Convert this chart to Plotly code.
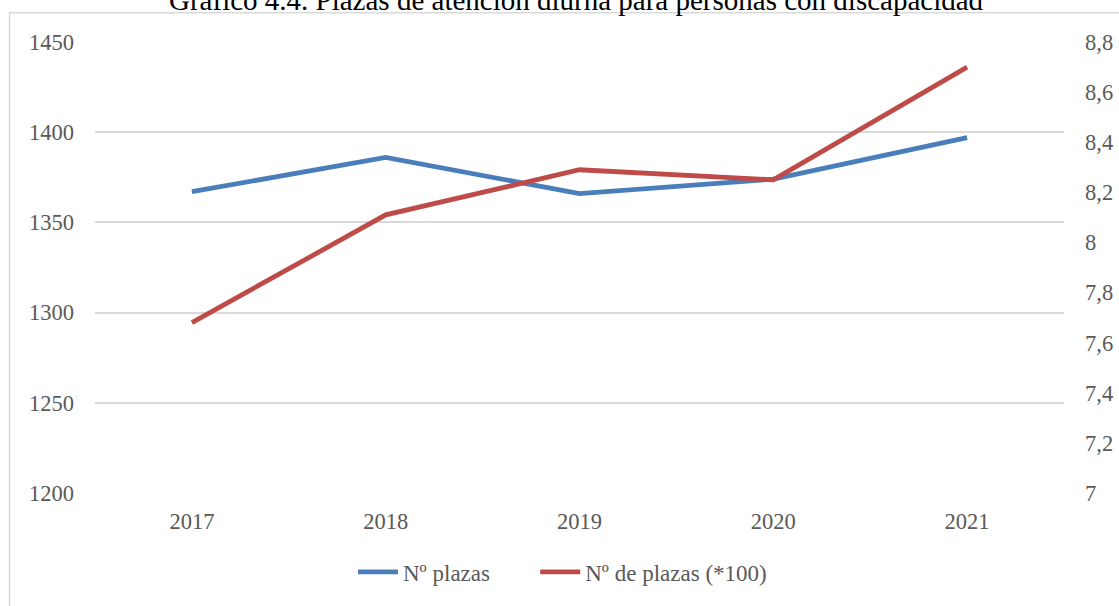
import plotly.graph_objects as go

years = ["2017", "2018", "2019", "2020", "2021"]
plazas = [1367, 1386, 1366, 1374, 1397]
plazas_100 = [7.68, 8.11, 8.29, 8.25, 8.70]

left_ticks = [1200, 1250, 1300, 1350, 1400, 1450]
right_ticks = [7.0, 7.2, 7.4, 7.6, 7.8, 8.0, 8.2, 8.4, 8.6, 8.8]
right_ticktext = ["7", "7,2", "7,4", "7,6", "7,8", "8", "8,2", "8,4", "8,6", "8,8"]

series_names = ["Nº plazas", "Nº de plazas (*100)"]
title_text = "Gráfico 4.4. Plazas de atención diurna para personas con discapacidad"

FONT = "Liberation Serif"
GRAY = "#595959"
TS = 22.5
PAD = "\u00a0" * 7

fig = go.Figure()
fig.add_trace(go.Scatter(x=years, y=plazas, name=series_names[0] + PAD, mode="lines",
                         line=dict(color="#4A7EBB", width=4.8), yaxis="y"))
fig.add_trace(go.Scatter(x=years, y=plazas_100, name=series_names[1], mode="lines",
                         line=dict(color="#BE4B48", width=4.8), yaxis="y2"))

fig.update_layout(
    width=1119, height=606,
    margin=dict(l=95, r=55, t=42, b=110.5),
    paper_bgcolor="white", plot_bgcolor="white",
    font=dict(family=FONT, size=TS, color=GRAY),
    showlegend=True,
    legend=dict(orientation="h", x=(353 - 95) / 969, xanchor="left", y=-0.175, yanchor="middle",
                font=dict(family=FONT, size=23, color=GRAY), itemwidth=40,
                traceorder="normal"),
    xaxis=dict(type="category", range=[-0.5, 4.5], showgrid=False, zeroline=False, showline=False,
               ticks="", ticklabelstandoff=12, automargin=False, tickfont=dict(size=TS, color=GRAY)),
    yaxis=dict(range=[1200, 1450], tickvals=left_ticks, showgrid=True,
               gridcolor="#d9d9d9", gridwidth=1.5, zeroline=False, showline=False,
               ticks="", ticklabelstandoff=20, automargin=False, tickfont=dict(size=TS, color=GRAY)),
    yaxis2=dict(range=[7, 8.8], overlaying="y", side="right", tickvals=right_ticks,
                ticktext=right_ticktext, showgrid=False, zeroline=False, showline=False,
                ticks="", ticklabelstandoff=20, automargin=False, tickfont=dict(size=TS, color=GRAY)),
    annotations=[dict(text=title_text, xref="paper", yref="paper", x=(576 - 95) / 969, y=1.094,
                      xanchor="center", yanchor="middle", showarrow=False,
                      font=dict(family=FONT, size=29, color="black"))],
    shapes=[dict(type="rect", xref="paper", yref="paper",
                 x0=(9.5 - 95) / 969, x1=(1130 - 95) / 969,
                 y0=(495.5 - 620) / 453.5, y1=(495.5 - 12.5) / 453.5,
                 line=dict(color="#d9d9d9", width=1.5), fillcolor="rgba(0,0,0,0)", layer="below")],
)

fig.write_html("out.html", config={"displayModeBar": False},
               post_script="document.body.style.margin='0';document.body.style.padding='0';")
